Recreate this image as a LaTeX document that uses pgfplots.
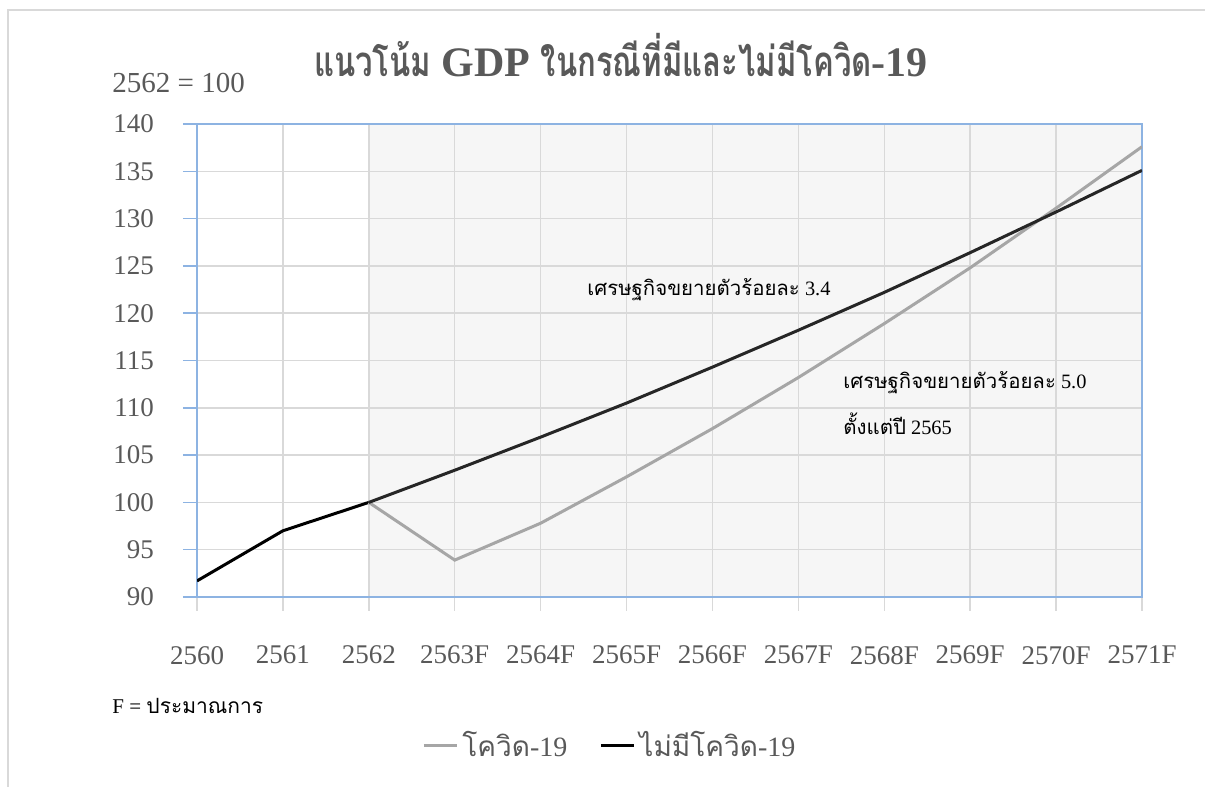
\documentclass[border=0pt]{standalone}
\usepackage{fontspec}
\setmainfont{Liberation Serif}
\newfontfamily\thai[Script=Thai]{Loma}
\newfontfamily\thaiT[Script=Thai, FakeStretch=0.74]{Loma}
\usepackage{pgfplots}
\pgfplotsset{compat=1.18}
\definecolor{txt}{HTML}{595959}
\definecolor{gridc}{HTML}{D9D9D9}
\definecolor{axblue}{HTML}{8DB3E2}
\definecolor{axblueL}{HTML}{5B9BD5}
\definecolor{shadec}{HTML}{F6F6F6}
\definecolor{grayl}{HTML}{A6A6A6}
\definecolor{darkl}{HTML}{262626}
\begin{document}
\begin{tikzpicture}
\draw[gridc, line width=0.6pt] (4pt,0) -- (4pt,388.5pt) -- (602.5pt,388.5pt);
\begin{axis}[
  set layers,
  at={(98.5pt,95pt)}, anchor=south west, scale only axis,
  width=472.5pt, height=236.5pt,
  xmin=0, xmax=11, ymin=90, ymax=140,
  xtick={0,...,11},
  xticklabels={2560,2561,2562,2563F,2564F,2565F,2566F,2567F,2568F,2569F,2570F,2571F},
  ytick={90,95,...,140},
  /pgf/number format/assume math mode=true,
  grid=major, major grid style={draw=gridc, line width=0.75pt},
  axis line style={draw=axblue, line width=0.75pt},
  tick pos=left, tick align=outside, major tick length=7pt,
  xtick style={draw=gridc, line width=0.75pt},
  ytick style={draw=axblue, line width=0.75pt},
  tick label style={font=\fontsize{13.5}{15}\selectfont, text=txt},
  xticklabel style={yshift=-14pt},
  yticklabel style={xshift=-11pt},
  legend style={at={(0.438,-0.313)}, anchor=center, draw=none,
    legend columns=2, font=\fontsize{14}{16}\selectfont, text=txt,
    /tikz/every even column/.append style={column sep=14pt}},
  legend image code/.code={\draw[#1] (0pt,0pt) -- (16.5pt,0pt);},
]
\addplot[draw=none, fill=shadec, forget plot, on layer=axis background] coordinates {(2,90)(2,140)(11,140)(11,90)} -- cycle;
\addplot[black, line width=1.5pt, forget plot] coordinates {(0,91.7)(1,97.0)(2,100)};
\addplot[grayl, line width=1.5pt] coordinates {(2,100)(3,93.9)(4,97.8)(5,102.7)(6,107.8)(7,113.2)(8,118.9)(9,124.8)(10,131.1)(11,137.6)};
\addlegendentry{{\thai โควิด}-19}
\addplot[darkl, line width=1.5pt, legend image post style={black}] coordinates {(2,100)(3,103.4)(4,106.9)(5,110.5)(6,114.3)(7,118.2)(8,122.2)(9,126.4)(10,130.7)(11,135.1)};
\addlegendentry{{\thai ไม่มีโควิด}-19}
\end{axis}
\node[text=txt, font=\fontsize{21}{24}\selectfont\bfseries] at (310.5pt,366pt) {{\thaiT แนวโน้ม} GDP {\thaiT ในกรณีที่มีและไม่มีโควิด}-19};
\node[text=txt, font=\fontsize{14.5}{16}\selectfont, anchor=west, inner sep=0pt] at (56pt,352pt) {2562 = 100};
\node[black, font=\fontsize{10.2}{12}\selectfont, anchor=west, inner sep=0pt] at (293.5pt,248.5pt) {{\thai เศรษฐกิจขยายตัวร้อยละ} 3.4};
\node[black, font=\fontsize{10.2}{12}\selectfont, anchor=west, inner sep=0pt] at (421.5pt,202pt) {{\thai เศรษฐกิจขยายตัวร้อยละ} 5.0};
\node[black, font=\fontsize{10.2}{12}\selectfont, anchor=west, inner sep=0pt] at (421.5pt,181.5pt) {{\thai ตั้งแต่ปี} 2565};
\node[black, font=\fontsize{10.5}{12}\selectfont, anchor=west, inner sep=0pt] at (56pt,40.5pt) {F = {\thai ประมาณการ}};
\pgfresetboundingbox
\useasboundingbox (0,0) rectangle (602.5pt,393.5pt);
\end{tikzpicture}
\end{document}
